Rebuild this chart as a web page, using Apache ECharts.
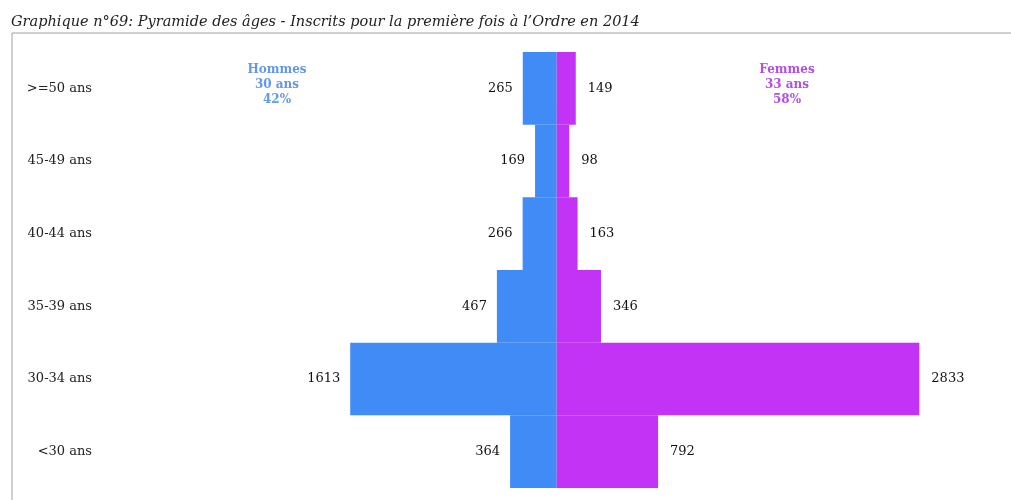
<!DOCTYPE html>
<html>
<head>
<meta charset="utf-8">
<script src="https://cdn.jsdelivr.net/npm/echarts@6/dist/echarts.min.js"></script>
<style>
  html, body { margin: 0; padding: 0; background: #fff; }
  #main { width: 1011px; height: 500px; }
</style>
</head>
<body>
<div id="main"></div>
<script>
// age groups, top to bottom
const ageGroups = [">=50 ans", "45-49 ans", "40-44 ans", "35-39 ans", "30-34 ans", "<30 ans"];
const hommes = [265, 169, 266, 467, 1613, 364];
const femmes = [149, 98, 163, 346, 2833, 792];
const hommesNote = ["Hommes", "30 ans", "42%"];
const femmesNote = ["Femmes", "33 ans", "58%"];

const chart = echarts.init(document.getElementById("main"));

const serif = "DejaVu Serif";
const blue = "#418bf6";
const purple = "#c333f6";

const option = {
  animation: false,
  title: {
    text: "Graphique n°69: Pyramide des âges - Inscrits pour la première fois à l’Ordre en 2014",
    left: 11,
    top: 15,
    padding: 0,
    textStyle: { fontFamily: serif, fontStyle: "italic", fontWeight: "normal", fontSize: 14.5, color: "#222" }
  },
  graphic: [
    {
      type: "rect",
      shape: { x: 12, y: 33, width: 1100, height: 600 },
      style: { fill: "none", stroke: "#a0a0a0", lineWidth: 1 },
      silent: true
    },
    {
      type: "text",
      x: 277, y: 62,
      style: {
        text: hommesNote.join("\n"), align: "center", lineHeight: 15,
        font: "bold 12px 'DejaVu Serif'", fill: "#6497ea"
      }
    },
    {
      type: "text",
      x: 787, y: 62,
      style: {
        text: femmesNote.join("\n"), align: "center", lineHeight: 15,
        font: "bold 12px 'DejaVu Serif'", fill: "#b050e6"
      }
    }
  ],
  grid: { left: 150, right: 11, top: 52, bottom: 12 },
  xAxis: {
    type: "value",
    min: -3177,
    max: 3463,
    show: false
  },
  yAxis: {
    type: "category",
    data: ageGroups,
    inverse: true,
    axisLine: { show: false },
    axisTick: { show: false },
    splitLine: { show: false },
    axisLabel: { margin: 58, fontFamily: serif, fontSize: 13, color: "#222" }
  },
  series: [
    {
      name: "Hommes",
      type: "bar",
      stack: "pyr",
      barCategoryGap: 0,
      data: hommes.map(v => -v),
      itemStyle: { color: blue },
      label: {
        show: true, position: "left", distance: 10,
        fontFamily: serif, fontSize: 13, color: "#111",
        formatter: p => Math.abs(p.value)
      }
    },
    {
      name: "Femmes",
      type: "bar",
      stack: "pyr",
      barCategoryGap: 0,
      data: femmes,
      itemStyle: { color: purple },
      label: {
        show: true, position: "right", distance: 12,
        fontFamily: serif, fontSize: 13, color: "#111"
      }
    }
  ]
};

chart.setOption(option);
</script>
</body>
</html>
